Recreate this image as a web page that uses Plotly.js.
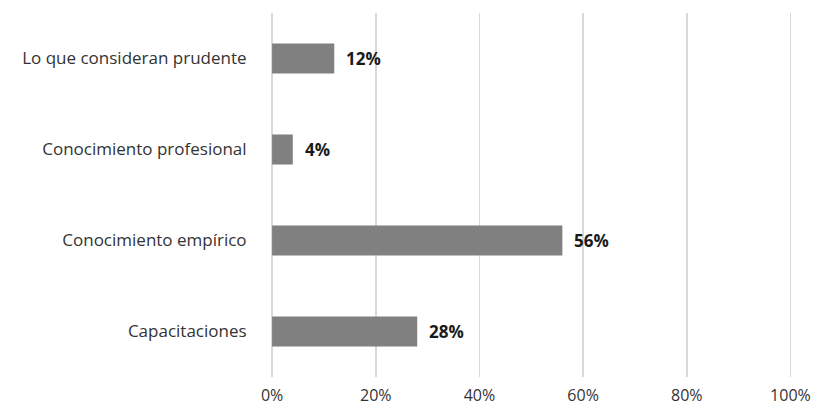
<!DOCTYPE html>
<html>
<head>
<meta charset="utf-8">
<script src="https://cdn.plot.ly/plotly-3.0.1.min.js"></script>
<style>html,body{margin:0;padding:0;background:#fff;}#chart{width:814px;height:408px;}</style>
</head>
<body>
<div id="chart"></div>
<script>
const categories = ["Capacitaciones", "Conocimiento empírico", "Conocimiento profesional", "Lo que consideran prudente"];
const values = [28, 56, 4, 12];
const valueLabels = ["28%", "56%", "4%", "12%"];
const xTickValues = [0, 20, 40, 60, 80, 100];
const xTickLabels = ["0%", "20%", "40%", "60%", "80%", "100%"];

const font = "Open Sans, DejaVu Sans, sans-serif";

const trace = {
  type: "bar",
  orientation: "h",
  y: categories,
  x: values,
  marker: {color: "#808080"},
  width: 0.33,
  hoverinfo: "none"
};

const annotations = categories.map((c, i) => ({
  x: values[i], y: c, xref: "x", yref: "y",
  text: "<b>" + valueLabels[i] + "</b>",
  showarrow: false, xanchor: "left", xshift: 10,
  font: {family: font, size: 17, color: "#1a1a1a"}
}));

const layout = {
  width: 814, height: 408,
  margin: {l: 270, r: 22, t: 13, b: 31, pad: 0},
  paper_bgcolor: "#fff", plot_bgcolor: "#fff",
  showlegend: false,
  font: {family: font, size: 17, color: "#333333"},
  xaxis: {
    range: [-0.4, 100.3], tickvals: xTickValues, ticktext: xTickLabels,
    showgrid: true, gridcolor: "#d9d9d9", gridwidth: 1.5,
    zeroline: false, showline: false, ticks: "outside", ticklen: 4,
    tickcolor: "rgba(0,0,0,0)", fixedrange: true,
    tickfont: {family: font, size: 16, color: "#333333"}
  },
  yaxis: {
    type: "category", showgrid: false, zeroline: false, showline: false,
    ticks: "outside", ticklen: 19, tickcolor: "rgba(0,0,0,0)",
    tickfont: {family: font, size: 17, color: "#333333"}, fixedrange: true
  },
  annotations: annotations
};

Plotly.newPlot("chart", [trace], layout, {staticPlot: true, displayModeBar: false});
</script>
</body>
</html>
